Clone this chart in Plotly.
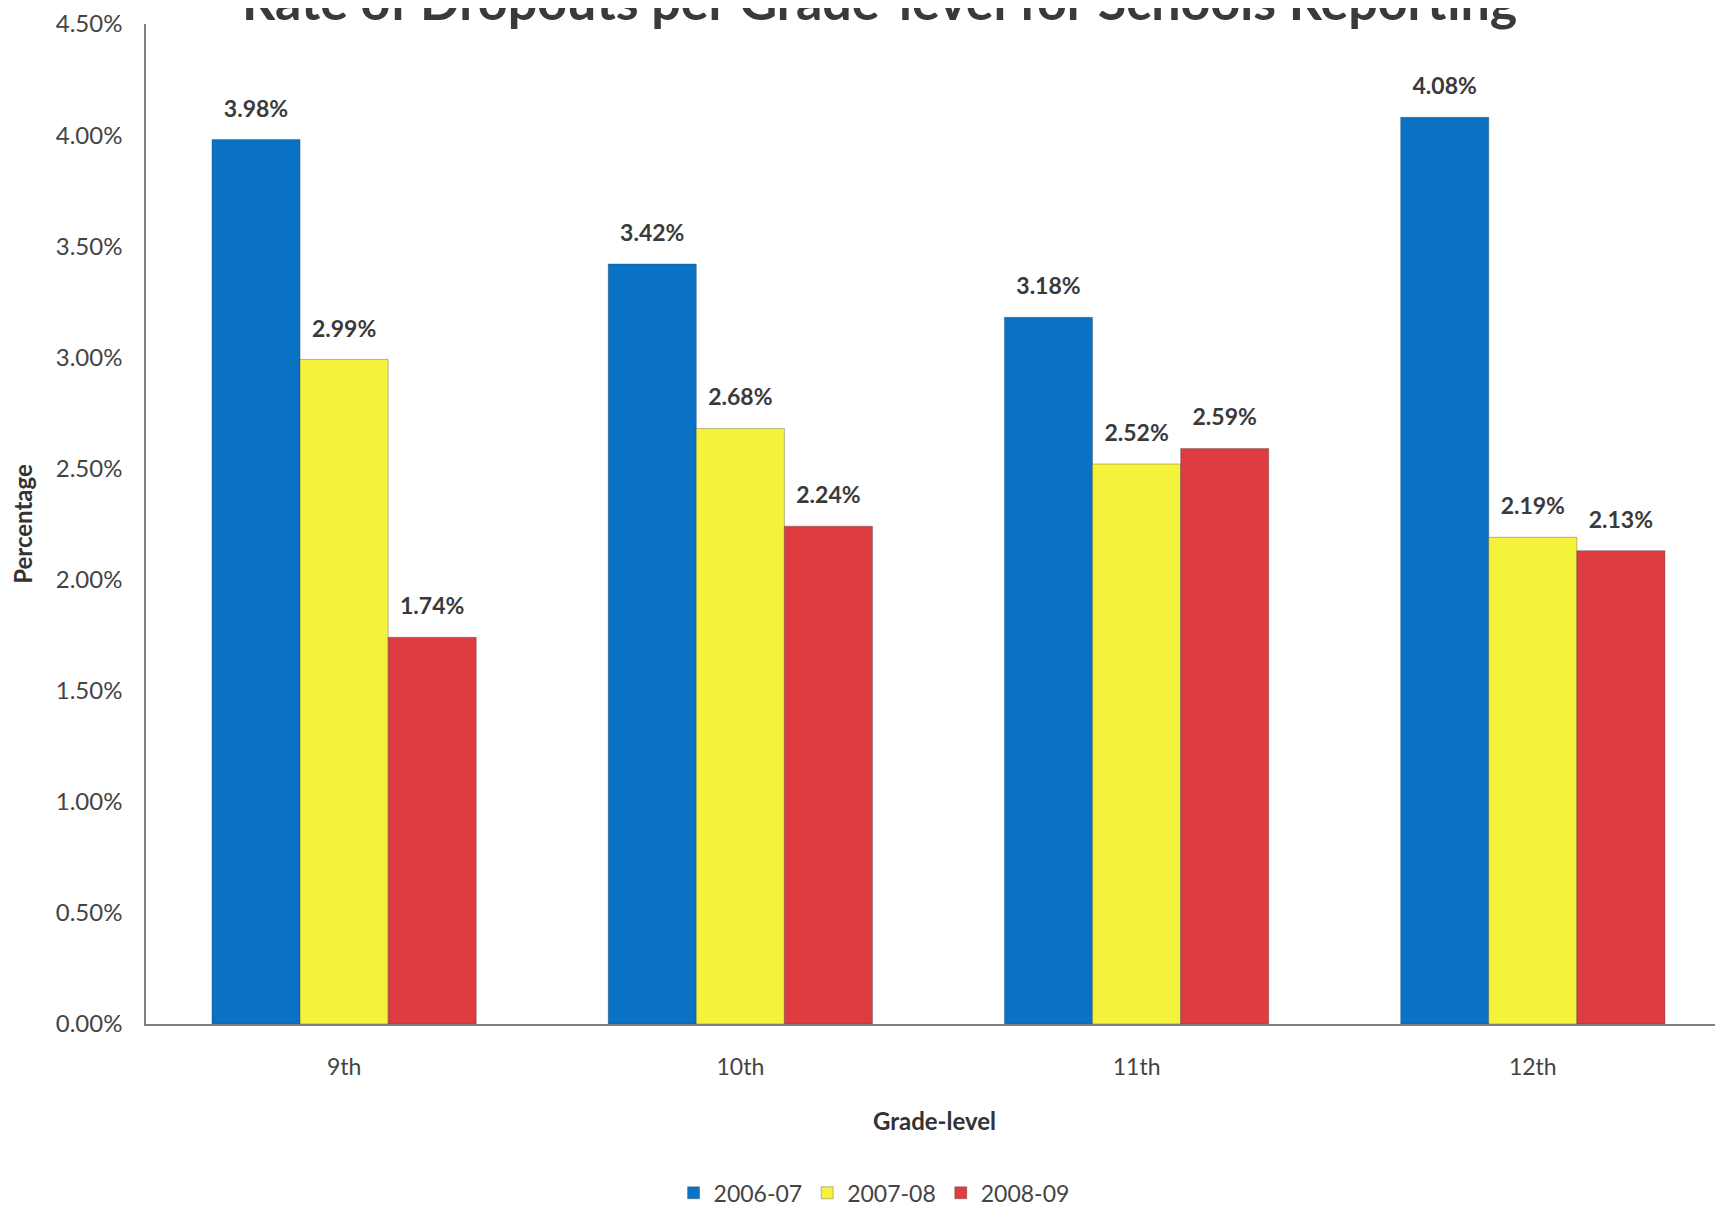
import plotly.graph_objects as go

grades = ["9th", "10th", "11th", "12th"]
series_names = ["2006-07", "2007-08", "2008-09"]
v_2006_07 = [3.98, 3.42, 3.18, 4.08]
v_2007_08 = [2.99, 2.68, 2.52, 2.19]
v_2008_09 = [1.74, 2.24, 2.59, 2.13]
colors = ["#0a72c4", "#f5f23c", "#de3c40"]
y_ticks = [0.0, 0.5, 1.0, 1.5, 2.0, 2.5, 3.0, 3.5, 4.0, 4.5]

FONT = "Lato, 'Open Sans', sans-serif"
fig = go.Figure()
all_vals = [v_2006_07, v_2007_08, v_2008_09]
for name, vals, col in zip(series_names, all_vals, colors):
    fig.add_trace(go.Bar(
        x=grades, y=[v / 100 for v in vals], name=name, offsetgroup=name,
        marker=dict(color=col, line=dict(color="rgba(60,60,60,0.35)", width=1)),
    ))
for name, vals in zip(series_names, all_vals):
    fig.add_trace(go.Scatter(
        x=grades, y=[v / 100 for v in vals], offsetgroup=name, showlegend=False,
        mode="markers+text", marker=dict(size=26, opacity=0),
        text=[f"{v:.2f}%" for v in vals], textposition="top center",
        textfont=dict(family=FONT, size=23, color="#3a3a3a", weight="bold"),
        cliponaxis=False, hoverinfo="skip",
    ))

fig.update_layout(
    width=1715, height=1198,
    barmode="group", bargap=0.333, bargroupgap=0,
    scattermode="group", scattergap=0.333,
    plot_bgcolor="white", paper_bgcolor="white",
    margin=dict(l=138, r=0, t=16, b=182),
    font=dict(family=FONT, color="#444444"),
    showlegend=True,
    legend=dict(orientation="h", xref="container", yref="container",
                x=0.505, y=0.011, xanchor="center", yanchor="middle",
                font=dict(size=23, color="#444444"), itemwidth=30,
                traceorder="normal"),
    annotations=[dict(text="<b>Rate of Dropouts per Grade-level for Schools Reporting</b>",
                      xref="paper", yref="paper", x=0.465, y=1.024,
                      xanchor="center", yanchor="middle", showarrow=False,
                      font=dict(family=FONT, size=52, color="#3a3a3a"))],
)
fig.update_xaxes(
    range=[-0.5, 3.48], showline=True, linecolor="#808080", linewidth=1.5,
    showgrid=False, ticks="", ticklabelstandoff=22,
    tickfont=dict(size=23, color="#444444"),
    title=dict(text="<b>Grade-level</b>", font=dict(size=24, color="#333333"), standoff=34),
)
fig.update_yaxes(
    range=[0, 0.045], tickvals=[t / 100 for t in y_ticks], tickformat=".2%",
    showline=True, linecolor="#808080", linewidth=1.5, showgrid=False, zeroline=False,
    ticks="", ticklabelstandoff=17, tickfont=dict(size=24, color="#444444"),
    title=dict(text="<b>Percentage</b>", font=dict(size=24, color="#333333"), standoff=18),
)
fig.write_html("out.html")
